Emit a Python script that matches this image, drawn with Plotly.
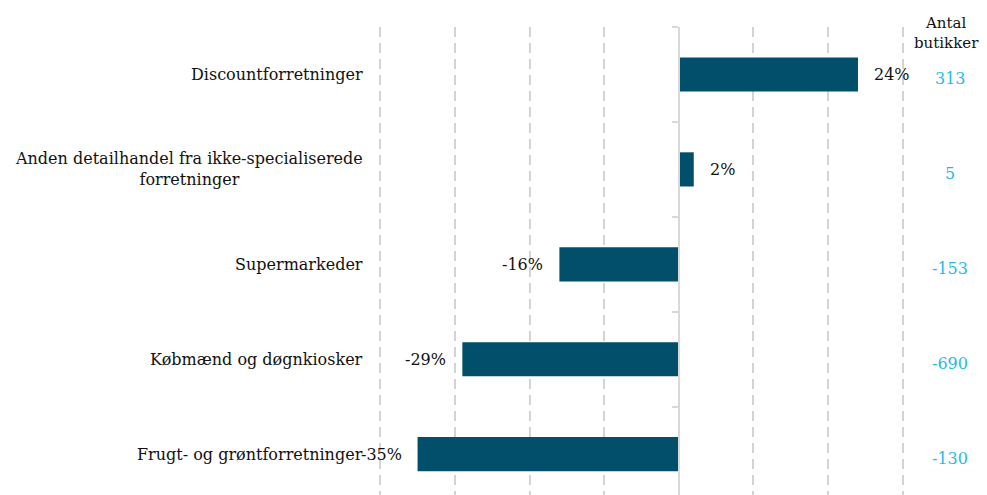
import plotly.graph_objects as go

categories = [
    "Discountforretninger",
    "Anden detailhandel fra ikke-specialiserede<br>forretninger",
    "Supermarkeder",
    "Købmænd og døgnkiosker",
    "Frugt- og grøntforretninger",
]
change_pct = [24, 2, -16, -29, -35]
store_counts = [313, 5, -153, -690, -130]
count_header = "Antal<br>butikker"

FONT = "Georgia, 'DejaVu Serif', serif"
BAR = "#014f6a"
CYAN = "#1fbbe8"
GRID = "#d4d4d4"
TXT = "#111111"

fig = go.Figure()
fig.add_trace(go.Bar(
    y=categories, x=change_pct, orientation="h",
    marker=dict(color=BAR, line=dict(width=0)),
    width=0.36, hoverinfo="skip", showlegend=False,
))
# invisible trace for the zero-positioned axis with boundary ticks
fig.add_trace(go.Scatter(
    y=categories, x=[0] * len(categories), yaxis="y2",
    mode="markers", marker=dict(opacity=0), hoverinfo="skip", showlegend=False,
))

xmin, xmax = -40.3, 30.3
yrange = [4.43, -0.5]

# page body has an 8px default margin: size the figure to fill the window
fig.update_layout(
    width=979, height=487,
    margin=dict(l=370, r=82, t=19, b=0, autoexpand=False),
    paper_bgcolor="white", plot_bgcolor="white",
    font=dict(family=FONT, size=16, color=TXT),
    xaxis=dict(
        range=[xmin, xmax], dtick=10, showticklabels=False,
        showgrid=True, gridcolor=GRID, gridwidth=1.5, griddash="10px,6px",
        zeroline=False, showline=False, ticks="", automargin=False,
    ),
    yaxis=dict(
        categoryorder="array", categoryarray=categories,
        range=yrange, showticklabels=False, showgrid=False,
        zeroline=False, showline=False, ticks="", automargin=False,
    ),
    yaxis2=dict(
        overlaying="y", anchor="free",
        position=(0 - xmin) / (xmax - xmin),
        categoryorder="array", categoryarray=categories,
        range=yrange, showticklabels=False, showgrid=False,
        showline=True, linecolor="#d9d9d9", linewidth=1.5,
        ticks="outside", ticklen=6, tickcolor="#d9d9d9", tickwidth=1.5,
        tickson="boundaries", side="left", automargin=False,
    ),
)

annotations = []
for cat, v, n in zip(categories, change_pct, store_counts):
    annotations.append(dict(
        x=0, xref="paper", y=cat, yref="y", text=cat,
        xanchor="right", yanchor="middle", align="center",
        xshift=-13, showarrow=False, font=dict(size=16, color=TXT),
    ))
    annotations.append(dict(
        x=v, xref="x", y=cat, yref="y", text=f"{v}%",
        xanchor="left" if v >= 0 else "right", yanchor="middle",
        xshift=14 if v >= 0 else -14, showarrow=False,
        font=dict(size=16, color=TXT),
    ))
    annotations.append(dict(
        x=1, xref="paper", y=cat, yref="y", text=f"{n}",
        xanchor="center", yanchor="middle", xshift=45, yshift=-4,
        showarrow=False, font=dict(size=16, color=CYAN),
    ))
annotations.append(dict(
    x=1, xref="paper", y=1, yref="paper", text=count_header,
    xanchor="center", yanchor="middle", xshift=41, yshift=-6, align="center",
    showarrow=False, font=dict(size=15, color=TXT),
))
fig.update_layout(annotations=annotations)

fig.write_html("out.html")
